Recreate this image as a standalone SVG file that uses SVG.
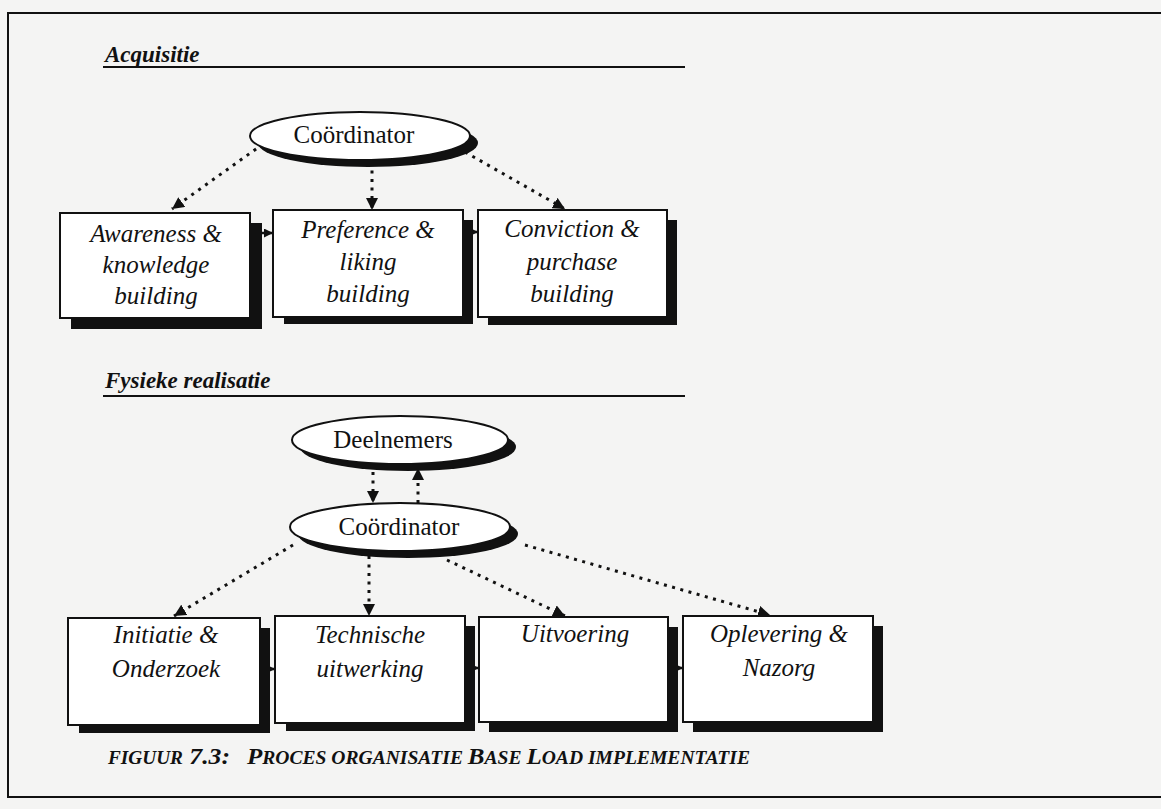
<svg xmlns="http://www.w3.org/2000/svg" width="1161" height="809" viewBox="0 0 1161 809">
  <style>
    .heading { font-family: "Liberation Serif", "DejaVu Serif", serif; font-weight: bold; font-style: italic; font-size: 23px; fill: #111; }
    .rule { stroke: #111; stroke-width: 2; }
    .oval { fill: #fff; stroke: #111; stroke-width: 2; }
    .oval-shadow { fill: #111; }
    .oval-text { font-family: "Liberation Serif", "DejaVu Serif", serif; font-size: 25px; fill: #111; text-anchor: middle; }
    .box { fill: #fff; stroke: #111; stroke-width: 2; }
    .box-shadow { fill: #111; }
    .box-text { font-family: "Liberation Serif", "DejaVu Serif", serif; font-style: italic; font-size: 25px; fill: #111; text-anchor: middle; }
    .dotted { fill: none; stroke: #111; stroke-width: 3; stroke-dasharray: 3 5.5; }
    .solid { fill: none; stroke: #111; stroke-width: 2.5; }
    .caption { font-family: "Liberation Serif", "DejaVu Serif", serif; font-weight: bold; font-style: italic; fill: #111; }
  </style>
  <defs>
    <marker id="head" viewBox="0 0 10 10" refX="10" refY="5" markerWidth="12" markerHeight="12" markerUnits="userSpaceOnUse" orient="auto">
      <path d="M0,0 L10,5 L0,10 Z" fill="#111"/>
    </marker>
    <marker id="head-small" viewBox="0 0 10 10" refX="10" refY="5" markerWidth="9" markerHeight="9" markerUnits="userSpaceOnUse" orient="auto">
      <path d="M0,0 L10,5 L0,10 Z" fill="#111"/>
    </marker>
  </defs>

  <!-- page -->
  <rect x="0" y="0" width="1161" height="809" fill="#f4f4f3"/>
  <rect x="8" y="13" width="1170" height="784" fill="none" stroke="#111" stroke-width="2"/>

  <!-- section headings -->
  <g id="heading-acquisitie">
    <text class="heading" x="105" y="62">Acquisitie</text>
    <line class="rule" x1="103" y1="67" x2="685" y2="67"/>
  </g>
  <g id="heading-fysieke">
    <text class="heading" x="105" y="388">Fysieke realisatie</text>
    <line class="rule" x1="103" y1="396" x2="685" y2="396"/>
  </g>

  <!-- connectors -->
  <g id="connectors">
    <!-- acquisitie -->
    <line class="dotted" x1="263" y1="144" x2="172" y2="209" marker-end="url(#head)"/>
    <line class="dotted" x1="372" y1="162" x2="372" y2="210" marker-end="url(#head)"/>
    <line class="dotted" x1="465" y1="152" x2="565" y2="209" marker-end="url(#head)"/>
    <line class="solid" x1="250" y1="233" x2="273" y2="233" marker-end="url(#head-small)"/>
    <line class="solid" x1="463" y1="232" x2="478" y2="232" marker-end="url(#head-small)"/>
    <!-- fysieke realisatie -->
    <line class="dotted" x1="373" y1="472" x2="373" y2="503" marker-end="url(#head)"/>
    <line class="dotted" x1="418" y1="503" x2="418" y2="468" marker-end="url(#head)"/>
    <line class="dotted" x1="293" y1="545" x2="174" y2="616" marker-end="url(#head)"/>
    <line class="dotted" x1="369" y1="556" x2="369" y2="616" marker-end="url(#head)"/>
    <line class="dotted" x1="447" y1="560" x2="565" y2="616" marker-end="url(#head)"/>
    <line class="dotted" x1="525" y1="545" x2="770" y2="615" marker-end="url(#head)"/>
    <line class="solid" x1="260" y1="669" x2="275" y2="669" marker-end="url(#head-small)"/>
    <line class="solid" x1="465" y1="668" x2="479" y2="668" marker-end="url(#head-small)"/>
    <line class="solid" x1="668" y1="668" x2="683" y2="668" marker-end="url(#head-small)"/>
  </g>

  <!-- acquisitie nodes -->
  <g id="coordinator-a">
    <ellipse class="oval-shadow" cx="368" cy="143" rx="110" ry="24"/>
    <ellipse class="oval" cx="360" cy="136" rx="110" ry="24"/>
    <text class="oval-text" x="354" y="143">Coördinator</text>
  </g>
  <g id="awareness">
    <rect class="box-shadow" x="71" y="223" width="191" height="106"/>
    <rect class="box" x="60" y="213" width="190" height="105"/>
    <text class="box-text" x="156" y="242">Awareness &amp;</text>
    <text class="box-text" x="156" y="273">knowledge</text>
    <text class="box-text" x="156" y="304">building</text>
  </g>
  <g id="preference">
    <rect class="box-shadow" x="284" y="220" width="189" height="104"/>
    <rect class="box" x="273" y="210" width="190" height="107"/>
    <text class="box-text" x="368" y="238">Preference &amp;</text>
    <text class="box-text" x="368" y="270">liking</text>
    <text class="box-text" x="368" y="302">building</text>
  </g>
  <g id="conviction">
    <rect class="box-shadow" x="488" y="220" width="189" height="105"/>
    <rect class="box" x="478" y="210" width="189" height="107"/>
    <text class="box-text" x="572" y="237">Conviction &amp;</text>
    <text class="box-text" x="572" y="270">purchase</text>
    <text class="box-text" x="572" y="302">building</text>
  </g>

  <!-- fysieke realisatie nodes -->
  <g id="deelnemers">
    <ellipse class="oval-shadow" cx="408" cy="447" rx="108" ry="24"/>
    <ellipse class="oval" cx="400" cy="440" rx="108" ry="24"/>
    <text class="oval-text" x="393" y="448">Deelnemers</text>
  </g>
  <g id="coordinator-f">
    <ellipse class="oval-shadow" cx="408" cy="534" rx="110" ry="24"/>
    <ellipse class="oval" cx="400" cy="527" rx="110" ry="24"/>
    <text class="oval-text" x="399" y="535">Coördinator</text>
  </g>
  <g id="initiatie">
    <rect class="box-shadow" x="79" y="628" width="191" height="105"/>
    <rect class="box" x="68" y="618" width="192" height="107"/>
    <text class="box-text" x="166" y="643">Initiatie &amp;</text>
    <text class="box-text" x="166" y="677">Onderzoek</text>
  </g>
  <g id="technische">
    <rect class="box-shadow" x="286" y="626" width="189" height="105"/>
    <rect class="box" x="275" y="616" width="190" height="107"/>
    <text class="box-text" x="370" y="643">Technische</text>
    <text class="box-text" x="370" y="677">uitwerking</text>
  </g>
  <g id="uitvoering">
    <rect class="box-shadow" x="489" y="627" width="189" height="105"/>
    <rect class="box" x="479" y="617" width="189" height="105"/>
    <text class="box-text" x="575" y="642">Uitvoering</text>
  </g>
  <g id="oplevering">
    <rect class="box-shadow" x="693" y="626" width="190" height="106"/>
    <rect class="box" x="683" y="616" width="190" height="106"/>
    <text class="box-text" x="779" y="642">Oplevering &amp;</text>
    <text class="box-text" x="779" y="676">Nazorg</text>
  </g>

  <!-- caption -->
  <text class="caption" x="108" y="764" textLength="122" lengthAdjust="spacingAndGlyphs"><tspan font-size="18">FIGUUR</tspan><tspan font-size="24"> 7.3:</tspan></text>
  <text class="caption" x="247" y="764" textLength="503" lengthAdjust="spacingAndGlyphs"><tspan font-size="23">P</tspan><tspan font-size="18">ROCES ORGANISATIE </tspan><tspan font-size="23">B</tspan><tspan font-size="18">ASE </tspan><tspan font-size="23">L</tspan><tspan font-size="18">OAD IMPLEMENTATIE</tspan></text>
</svg>
